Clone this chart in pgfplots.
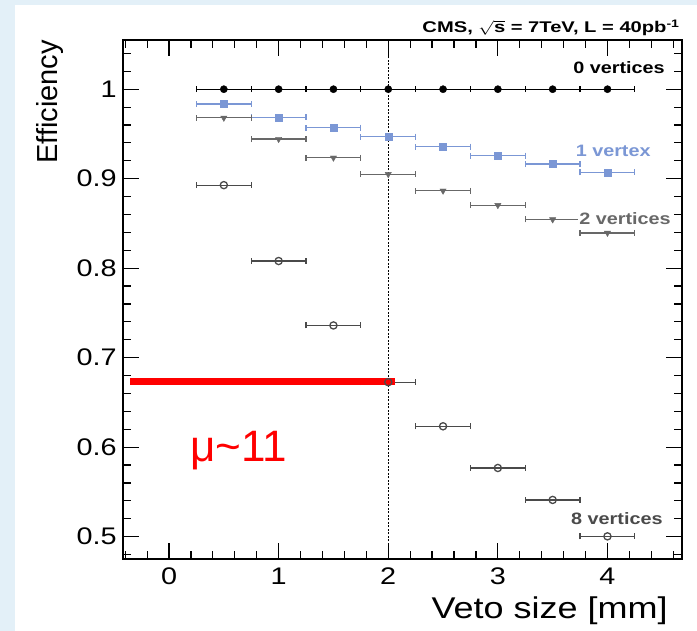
\documentclass[border=0pt]{standalone}
\usepackage{fontspec}
\setmainfont{Liberation Sans}
\usepackage{pgfplots}
\pgfplotsset{compat=1.18}
\definecolor{bgblue}{HTML}{E3F0F8}
\definecolor{vblue}{HTML}{7B97D5}
\definecolor{vgray}{HTML}{686868}
\definecolor{vdark}{HTML}{4A4A4A}
\pgfplotsset{eb/.style={error bars/.cd, x dir=both, x fixed=0.25,
  error bar style={line width=1.2pt},
  error mark options={rotate=90, line width=1.2pt, mark size=3pt}}}
\begin{document}
\begin{tikzpicture}
\fill[bgblue] (-123pt,-72pt) rectangle (574pt,559pt);
\fill[white] (-108pt,-72pt) rectangle (574pt,554pt);
\begin{axis}[
  at={(0pt,0pt)}, anchor=south west,
  scale only axis, width=559pt, height=519pt,
  xmin=-0.42, xmax=4.68, ymin=0.475, ymax=1.055,
  clip=false,
  xtick={0,1,2,3,4}, ytick={0.5,0.6,0.7,0.8,0.9,1},
  minor x tick num=4, minor y tick num=4,
  tick align=inside,
  major tick length=16pt, minor tick length=8pt,
  tick style={black, line width=1.2pt},
  axis line style={line width=1.6pt},
  /pgf/number format/assume math mode=true,
  xticklabel style={font=\fontsize{24}{28}\selectfont, inner sep=0pt, yshift=-9pt, xscale=1.2},
  yticklabel style={font=\fontsize{24}{28}\selectfont, inner sep=0pt, xshift=-6pt, xscale=1.2},
]
% dotted line at 2 mm
\addplot[black, line width=1.1pt, dash pattern=on 2pt off 1.5pt, forget plot] coordinates {(2,0.475) (2,1.055)};
% 0 vertices
\addplot[black, only marks, mark=*, mark size=3.6pt, eb] coordinates {
(0.5,1.0) (1,1.0) (1.5,1.0) (2,1.0) (2.5,1.0) (3,1.0) (3.5,1.0) (4,1.0)};
% 1 vertex
\addplot[vblue, only marks, mark=square*, mark size=3.5pt, eb] coordinates {
(0.5,0.9835) (1,0.9686) (1.5,0.957) (2,0.947) (2.5,0.9357) (3,0.9257) (3.5,0.9164) (4,0.907)};
% 2 vertices
\addplot[vgray, only marks, mark=triangle*, mark size=3.6pt, mark options={rotate=180}, eb] coordinates {
(0.5,0.968) (1,0.9443) (1.5,0.9234) (2,0.905) (2.5,0.8865) (3,0.8704) (3.5,0.8544) (4,0.8394)};
% 8 vertices
\addplot[vdark, only marks, mark=o, mark size=3.6pt, mark options={line width=1.3pt}, eb] coordinates {
(0.5,0.8928) (1,0.808) (1.5,0.736) (2,0.6726) (2.5,0.6233) (3,0.5767) (3.5,0.541) (4,0.5003)};
% red line
\addplot[red, line width=7pt, forget plot] coordinates {(-0.356,0.6735) (2.06,0.6735)};
% tick marks on all four sides
\pgfplotsinvokeforeach{0,1,2,3,4}{
  \draw[black, line width=1.2pt] (axis cs:#1,0.475) -- (axis cs:#1,0.4929);
  \draw[black, line width=1.2pt] (axis cs:#1,1.055) -- (axis cs:#1,1.0371);
}
\pgfplotsinvokeforeach{-0.4,-0.2,0.2,0.4,0.6,0.8,1.2,1.4,1.6,1.8,2.2,2.4,2.6,2.8,3.2,3.4,3.6,3.8,4.2,4.4,4.6}{
  \draw[black, line width=1.2pt] (axis cs:#1,0.475) -- (axis cs:#1,0.4839);
  \draw[black, line width=1.2pt] (axis cs:#1,1.055) -- (axis cs:#1,1.0461);
}
\pgfplotsinvokeforeach{0.5,0.6,0.7,0.8,0.9,1}{
  \draw[black, line width=1.2pt] (axis cs:-0.42,#1) -- (axis cs:-0.274,#1);
  \draw[black, line width=1.2pt] (axis cs:4.68,#1) -- (axis cs:4.534,#1);
}
\pgfplotsinvokeforeach{0.48,0.52,0.54,0.56,0.58,0.62,0.64,0.66,0.68,0.72,0.74,0.76,0.78,0.82,0.84,0.86,0.88,0.92,0.94,0.96,0.98,1.02,1.04}{
  \draw[black, line width=1.2pt] (axis cs:-0.42,#1) -- (axis cs:-0.347,#1);
  \draw[black, line width=1.2pt] (axis cs:4.68,#1) -- (axis cs:4.607,#1);
}
% labels
\node[anchor=east, inner sep=1pt, fill=white, xscale=1.2, font=\fontsize{16.5}{19}\selectfont\bfseries] at (axis cs:4.535,1.0242) {0 vertices};
\node[anchor=east, inner sep=1pt, xscale=1.2, text=vblue, font=\fontsize{16.5}{19}\selectfont\bfseries] at (axis cs:4.407,0.931) {1 vertex};
\node[anchor=east, inner sep=1pt, fill=white, xscale=1.2, text=vgray, font=\fontsize{16.5}{19}\selectfont\bfseries] at (axis cs:4.59,0.855) {2 vertices};
\node[anchor=east, inner sep=1pt, fill=white, xscale=1.2, text=vdark, font=\fontsize{16.5}{19}\selectfont\bfseries] at (axis cs:4.516,0.52) {8 vertices};
\node[anchor=base west, inner sep=0pt, text=red, font=\fontsize{44}{50}\selectfont] at (axis cs:0.19,0.584) {μ\char`~11};
% title
\node[anchor=base east, inner sep=0pt, xscale=1.3, font=\fontsize{15.5}{18}\selectfont\bfseries] at ([xshift=-2pt,yshift=7pt]rel axis cs:1,1) {CMS, $\sqrt{\mbox{\bfseries s}}$ = 7TeV, L = 40pb\textsuperscript{-1}};
% axis labels
\node[anchor=base east, inner sep=0pt, xscale=1.2, font=\fontsize{30}{34}\selectfont] at ([xshift=-14pt,yshift=-60pt]rel axis cs:1,0) {Veto size [mm]};
\node[rotate=90, anchor=east, inner sep=0pt, font=\fontsize{29}{33}\selectfont] at ([xshift=-73pt]rel axis cs:0,1) {Efficiency};
\end{axis}
\end{tikzpicture}
\end{document}
